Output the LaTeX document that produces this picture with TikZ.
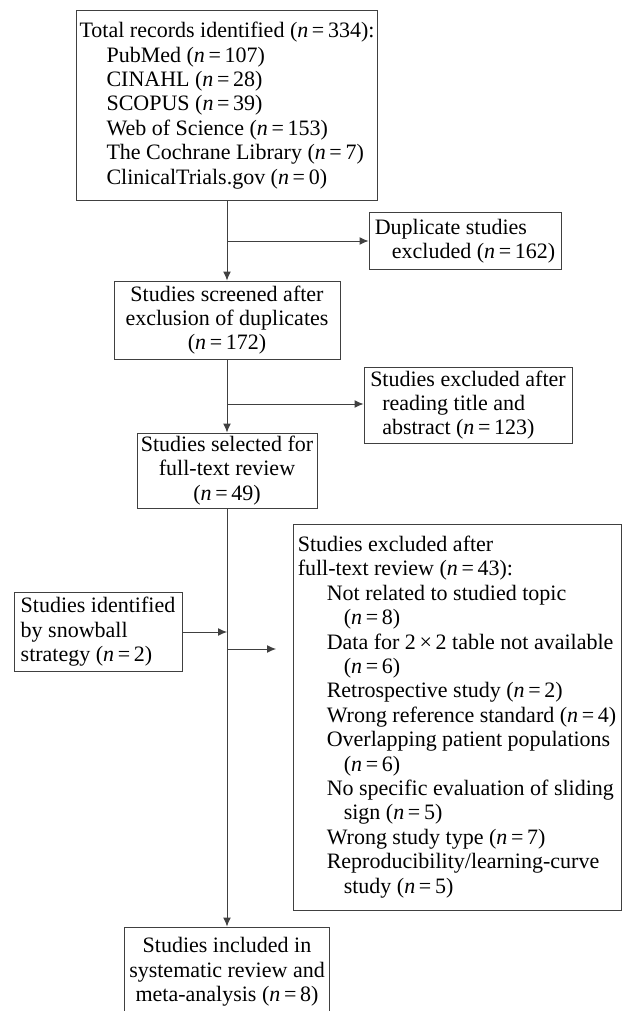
\documentclass[tikz,border=0pt]{standalone}
\usepackage{fontspec}
\setmainfont{Liberation Serif}
\usetikzlibrary{arrows.meta}

\newcommand{\nval}[1]{(\textit{n}\,=\,#1)}

\tikzset{
  box/.style={draw=black!75, line width=1pt, inner sep=0pt,
    font=\fontsize{22}{24.4}\selectfont},
  flow/.style={draw=black!75, line width=1pt, -{Latex[length=9pt,width=8pt]}}
}

\begin{document}
\begin{tikzpicture}[x=1pt,y=-1pt]
    \useasboundingbox (0,0) rectangle (625,1011);
    \clip (0,0) rectangle (625,1011);

    % Records identified
    \node[box, align=left, minimum width=301pt, minimum height=189pt] (total) at (227,105.5)
      {Total records identified \nval{334}:\\
       \hspace*{27pt}PubMed \nval{107}\\
       \hspace*{27pt}CINAHL \nval{28}\\
       \hspace*{27pt}SCOPUS \nval{39}\\
       \hspace*{27pt}Web of Science \nval{153}\\
       \hspace*{27pt}The Cochrane Library \nval{7}\\
       \hspace*{27pt}ClinicalTrials.gov \nval{0}};

    % Duplicates
    \node[box, align=left, minimum width=192pt, minimum height=57pt] (dup) at (465,241)
      {Duplicate studies\\\hspace*{17pt}excluded \nval{162}};

    % Screened
    \node[box, align=center, minimum width=226pt, minimum height=78pt] (screen) at (227,320)
      {Studies screened after\\exclusion of duplicates\\\nval{172}};

    % Excluded on title and abstract
    \node[box, align=left, minimum width=208pt, minimum height=76pt] (exclread) at (468,405)
      {Studies excluded after\\\hspace*{12pt}reading title and\\\hspace*{12pt}abstract \nval{123}};

    % Full-text review
    \node[box, align=center, minimum width=180pt, minimum height=75pt] (sel) at (227,470.5)
      {Studies selected for\\full-text review\\\nval{49}};

    % Snowball
    \node[box, align=left, minimum width=168pt, minimum height=79pt] (snow) at (98,632)
      {Studies identified\\by snowball\\strategy \nval{2}};

    % Excluded after full text
    \node[box, align=left, minimum width=328pt, minimum height=386pt] (fullexcl) at (457,717)
      {Studies excluded after\\full-text review \nval{43}:\\
       \hspace*{29pt}Not related to studied topic\\
       \hspace*{46pt}\nval{8}\\
       \hspace*{29pt}Data for 2\,×\,2 table not available\\
       \hspace*{46pt}\nval{6}\\
       \hspace*{29pt}Retrospective study \nval{2}\\
       \hspace*{29pt}Wrong reference standard \nval{4}\\
       \hspace*{29pt}Overlapping patient populations\\
       \hspace*{46pt}\nval{6}\\
       \hspace*{29pt}No specific evaluation of sliding\\
       \hspace*{46pt}sign \nval{5}\\
       \hspace*{29pt}Wrong study type \nval{7}\\
       \hspace*{29pt}Reproducibility/learning-curve\\
       \hspace*{46pt}study \nval{5}};

    % Included
    \node[box, align=center, minimum width=205pt, minimum height=90pt] (incl) at (227,972)
      {Studies included in\\systematic review and\\meta-analysis \nval{8}};

    % Connectors
    \coordinate (b1) at (227,241);
    \coordinate (b2) at (227,404);
    \coordinate (b3) at (227,649);
    \coordinate (b3end) at (276,649);
    \draw[flow] (total) -- (screen);
    \draw[flow] (b1) -- (b1 -| dup.west);
    \draw[flow] (screen) -- (sel);
    \draw[flow] (b2) -- (b2 -| exclread.west);
    \draw[flow] (sel) -- (incl);
    \draw[flow] (snow.east) -- (snow.east -| sel.south);
    \draw[flow] (b3) -- (b3end);
\end{tikzpicture}
\end{document}
